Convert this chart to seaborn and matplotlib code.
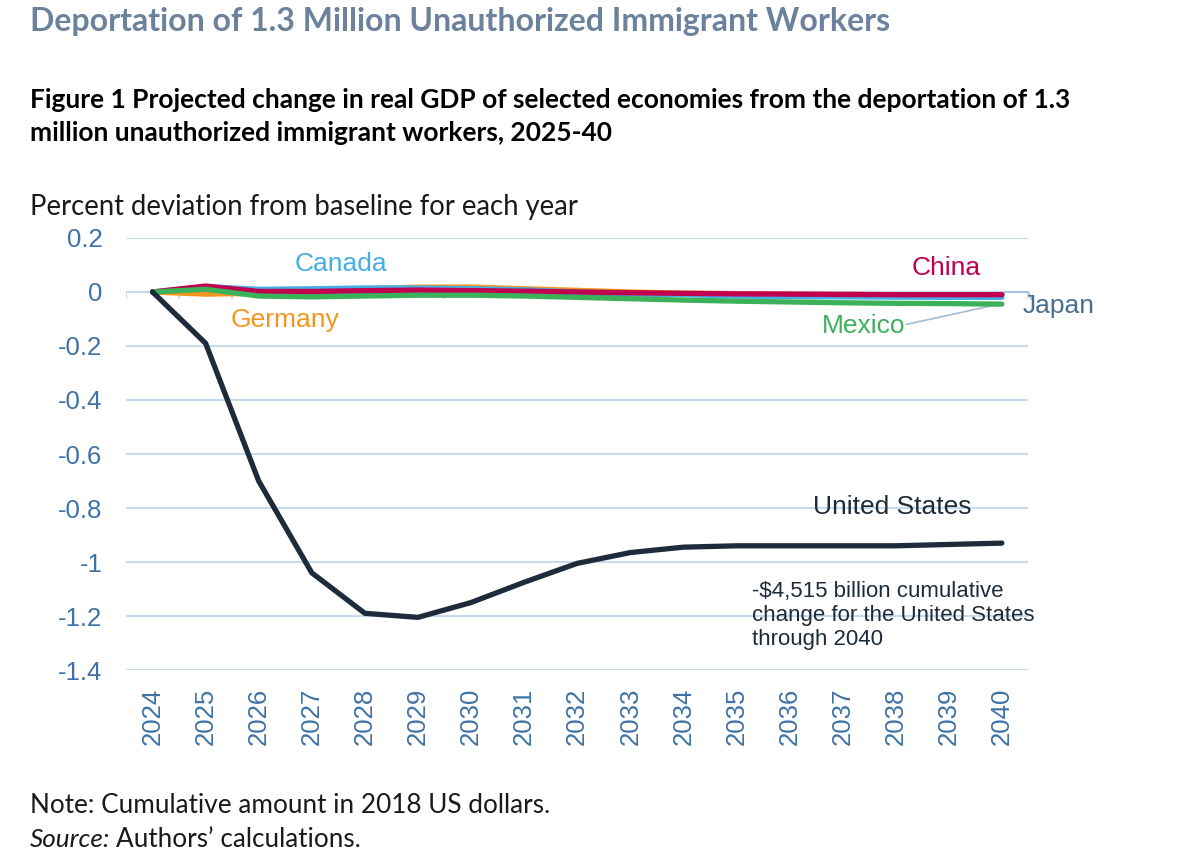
import pandas as pd
import matplotlib.pyplot as plt
import seaborn as sns

sns.set_theme(style="white")
plt.rcParams["font.family"] = ["Liberation Sans", "DejaVu Sans"]

# ------------------------------------------------------------
# Data (percent deviation from baseline)
# ------------------------------------------------------------
years = list(range(2024, 2041))
united_states = [0, -0.19, -0.70, -1.04, -1.19, -1.205, -1.15, -1.075, -1.005, -0.965,
                 -0.945, -0.94, -0.94, -0.94, -0.94, -0.935, -0.93]
china = [0, 0.022, 0.002, 0.002, 0.005, 0.007, 0.005, 0.003, 0.0, -0.003,
         -0.005, -0.007, -0.008, -0.009, -0.01, -0.01, -0.01]
canada = [0, 0.02, 0.01, 0.012, 0.015, 0.015, 0.012, 0.008, 0.0, -0.005,
          -0.01, -0.015, -0.017, -0.018, -0.019, -0.02, -0.02]
germany = [0, -0.008, -0.005, 0.005, 0.012, 0.018, 0.018, 0.012, 0.006, 0.0,
           -0.004, -0.006, -0.008, -0.009, -0.01, -0.01, -0.01]
mexico = [0, 0.01, -0.015, -0.018, -0.015, -0.012, -0.012, -0.015, -0.02, -0.025,
          -0.03, -0.034, -0.037, -0.04, -0.042, -0.043, -0.045]
japan = [0, 0.005, -0.005, -0.005, -0.003, -0.002, -0.003, -0.005, -0.006, -0.007,
         -0.008, -0.009, -0.01, -0.01, -0.01, -0.01, -0.01]

series = {
    "Japan": japan,
    "Germany": germany,
    "Canada": canada,
    "China": china,
    "Mexico": mexico,
    "United States": united_states,
}
colors = {
    "Japan": "#4a6f8e",
    "Germany": "#f7941d",
    "Canada": "#45aee6",
    "China": "#c0004f",
    "Mexico": "#3bb15a",
    "United States": "#1d2b3a",
}

df = pd.concat(
    [pd.DataFrame({"Year": years, "Value": vals, "Economy": name}) for name, vals in series.items()],
    ignore_index=True,
)

# ------------------------------------------------------------
# Plot
# ------------------------------------------------------------
fig = plt.figure(figsize=(12, 8.66), dpi=100)
ax = fig.add_axes([0.105, 0.2263, 0.752, 0.4989])

sns.lineplot(data=df, x="Year", y="Value", hue="Economy", hue_order=list(series.keys()),
             palette=colors, linewidth=3.8, ax=ax, legend=False,
             solid_capstyle="round", zorder=3)

ax.set_xlim(2023.5, 2040.5)
ax.set_ylim(-1.4, 0.2)
ax.set_yticks([0.2, 0, -0.2, -0.4, -0.6, -0.8, -1, -1.2, -1.4])
ax.set_yticklabels(["0.2", "0", "-0.2", "-0.4", "-0.6", "-0.8", "-1", "-1.2", "-1.4"])
ax.set_xticks(years)
ax.set_xticklabels([str(y) for y in years], rotation=90)
ax.tick_params(axis="both", colors="#3f72a6", labelsize=18.5, length=0)
ax.tick_params(axis="x", pad=13)
ax.tick_params(axis="y", pad=17)
ax.grid(axis="y", color="#c8dbec", linewidth=1.5)
ax.set_axisbelow(True)
for s in ax.spines.values():
    s.set_visible(False)
ax.set_xlabel("")
ax.set_ylabel("")

# category axis at zero with tick marks between categories
ax.axhline(0, color="#c8dbec", linewidth=1.5, zorder=1)
ax.vlines([y - 0.5 for y in years] + [years[-1] + 0.5], -0.025, 0, color="#c8dbec",
          linewidth=1.5, zorder=1)

# series labels
lab = 19
ax.text(2027.55, 0.104, "Canada", color=colors["Canada"], fontsize=lab, ha="center", va="center")
ax.text(2026.5, -0.104, "Germany", color=colors["Germany"], fontsize=lab, ha="center", va="center")
ax.text(2038.95, 0.089, "China", color=colors["China"], fontsize=lab, ha="center", va="center")
ax.text(2040.4, -0.052, "Japan", color=colors["Japan"], fontsize=lab, ha="left", va="center",
        clip_on=False)
ax.text(2037.4, -0.126, "Mexico", color=colors["Mexico"], fontsize=lab, ha="center", va="center")
ax.plot([2038.2, 2039.95], [-0.12, -0.045], color="#9fbcd6", linewidth=1.2, zorder=2)
ax.plot([2040.05, 2040.5, 2040.55], [0.0, 0.0, -0.025], color="#9fbcd6", linewidth=1.2,
        zorder=2, clip_on=False)
ax.text(2037.93, -0.796, "United States", color=colors["United States"], fontsize=lab,
        ha="center", va="center")
ax.text(2035.3, -1.07, "-$4,515 billion cumulative\nchange for the United States\nthrough 2040",
        color="#1d2b3a", fontsize=16, ha="left", va="top", linespacing=1.2)

# titles and notes
body = ["Lato", "DejaVu Sans"]
fig.text(0.025, 0.9746, "Deportation of 1.3 Million Unauthorized Immigrant Workers",
         fontsize=23, fontweight="bold", color="#6c819b", family=body,
         ha="left", va="center")
fig.text(0.025, 0.8845, "Figure 1 Projected change in real GDP of selected economies from the deportation of 1.3",
         fontsize=19, fontweight="bold", color="black", family=body,
         ha="left", va="center")
fig.text(0.025, 0.8464, "million unauthorized immigrant workers, 2025-40",
         fontsize=19, fontweight="bold", color="black", family=body,
         ha="left", va="center")
fig.text(0.025, 0.761, "Percent deviation from baseline for each year",
         fontsize=19.8, color="#1a1a1a", family=body, ha="left", va="center")
fig.text(0.025, 0.07, "Note: Cumulative amount in 2018 US dollars.",
         fontsize=18.8, color="#1a1a1a", family=body, ha="left", va="center")
src = fig.text(0.025, 0.031, "Source:", fontsize=18.8, style="italic", color="#1a1a1a",
               family=body, ha="left", va="center")
renderer = fig.canvas.get_renderer()
bb = src.get_window_extent(renderer=renderer)
fig.text(bb.x1 / fig.bbox.width + 0.005, 0.031, "Authors\u2019 calculations.", fontsize=18.8,
         color="#1a1a1a", family=body, ha="left", va="center")

fig.savefig("out.png", dpi=100)
